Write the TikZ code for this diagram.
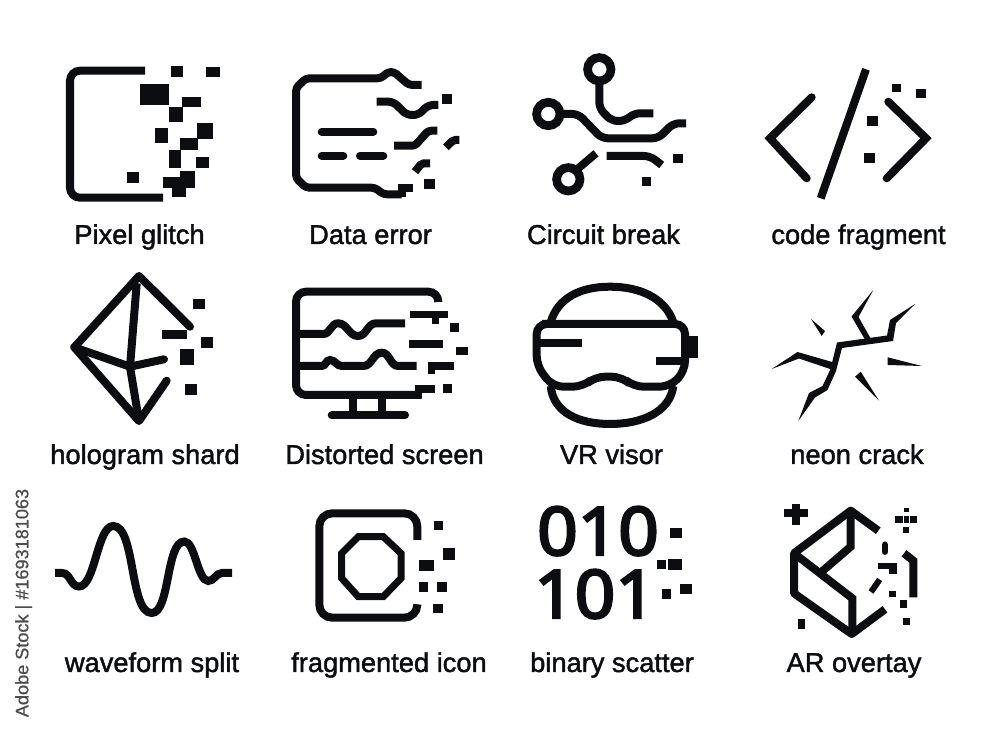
\documentclass[tikz,border=0pt]{standalone}
\usepackage{fontspec}
\setmainfont{Liberation Sans}
\newfontfamily\bitfont[FakeBold=3.5]{Noto Sans}
\usepackage{tikz}
\definecolor{inkblack}{HTML}{0B0D10}
\def\block(#1)(#2){\fill[inkblack] (#1) rectangle (#2);}
\tikzset{
	bar/.style={draw=inkblack, line width=0.8mm, line join=miter},
	roundbar/.style={bar, line cap=round, line join=round},
	caption/.style={anchor=base, text=inkblack, font=\addfontfeature{FakeBold=1.6}\fontsize{7.75}{9}\selectfont, inner sep=0pt},
	digits/.style={anchor=base, text=inkblack, font=\bitfont\fontsize{19}{22}\selectfont, inner sep=0pt, xscale=1.06}
}

\begin{document}
\begin{tikzpicture}[x=0.01cm, y=-0.01cm]
		%%%%% START %%%%%
		\useasboundingbox (0, 0) rectangle (1000, 731);
		
		% pixel glitch
		\draw[bar, rounded corners=1mm] (145, 70.7) -- (70, 70.7) -- (70, 197.7) -- (163, 197.7);
		\block(170.7, 66)(183.3, 77.3)
		\block(205.7, 66.7)(220, 77.3)
		\block(140, 84.3)(169.3, 105)
		\block(181.7, 97.3)(201, 107)
		\block(169.3, 107)(182.7, 122.3)
		\block(196.7, 122.7)(213.3, 138.7)
		\block(155.3, 128.3)(168, 143.3)
		\block(180.3, 137.7)(197.7, 149.7)
		\block(169.3, 150.3)(181.3, 167.7)
		\block(196.3, 157)(209, 167.7)
		\block(127.3, 172.3)(138.7, 182.7)
		\block(162.7, 177.3)(195, 187.7)
		\block(180.3, 170.7)(195, 187.7)
		\block(172, 187.7)(185.7, 197.3)
		\node[caption] (pixelglitch) at (139.5, 244) {Pixel glitch};
		
		% data error
		\draw[bar, line join=round, rounded corners=0.35mm] (421.7, 85) -- (409, 85) -- (394, 72) -- (388, 72) -- (381, 78.3) -- (306, 78.3) -- (296, 88) -- (296, 178) -- (306, 187.7) -- (375, 187.7) -- (383.3, 194.3) -- (401.7, 194.3);
		\draw[bar] (401.7, 197.5) -- (401.7, 187.7) -- (413.3, 187.7);
		\draw[bar, line join=round, rounded corners=0.5mm] (376.7, 101.7) -- (393.3, 101.7) -- (406.7, 115) -- (418.3, 115) -- (428.3, 105) -- (438.3, 105);
		\draw[bar, line join=round, rounded corners=0.3mm] (394, 145.7) -- (415, 145.7) -- (428.3, 130.7) -- (437.3, 130.7);
		\draw[bar, line join=round, rounded corners=0.2mm] (446, 147.3) -- (453.3, 140) -- (459.3, 140);
		\draw[bar, line join=round, rounded corners=0.2mm] (415, 171.7) -- (421.7, 163.3) -- (430, 163.3);
		\draw[roundbar] (321.7, 131.7) -- (373.3, 131.7);
		\draw[roundbar] (321.7, 155.7) -- (343.3, 155.7);
		\draw[roundbar] (360, 155.7) -- (383.3, 155.7);
		\block(441.7, 93.7)(452, 103.7)
		\block(424, 179.3)(435, 189)
		\node[caption] (dataerror) at (370.5, 244) {Data error};
		
		% circuit break
		\draw[bar, line width=0.87mm] (599.3, 69.3) circle (11.7);
		\draw[bar, line width=0.87mm] (548.3, 114) circle (11.7);
		\draw[bar, line width=0.87mm] (568.3, 179.3) circle (11.7);
		\draw[bar, rounded corners=0.6mm] (599.3, 83.3) -- (599.3, 108.3) -- (611.7, 121) -- (625, 121) -- (634, 113.3) -- (653.3, 113.3);
		\draw[bar, rounded corners=0.6mm] (561.7, 114) -- (578.3, 114) -- (601.7, 138.3) -- (658.3, 138.3) -- (673.3, 123.3) -- (686, 123.3);
		\draw[bar] (578.3, 168.3) -- (596, 153.3);
		\draw[bar, rounded corners=0.6mm] (606.7, 156) -- (650, 156) -- (661.7, 165);
		\block(673.3, 153.7)(683, 163)
		\block(641.7, 177)(651, 185.7)
		\node[caption] (circuitbreak) at (603.5, 244) {Circuit break};
		
		% code fragment
		\draw[bar, line cap=round] (811.7, 97.3) -- (770, 138.3) -- (806.7, 178.3);
		\draw[bar] (866, 69.3) -- (820.7, 198.3);
		\draw[bar, line cap=round] (888.3, 101.7) -- (926, 138.3) -- (886.7, 178.3);
		\block(891.7, 84.3)(901, 92.3)
		\block(915.7, 88.7)(926, 97.7)
		\block(867, 116)(878.3, 126.3)
		\block(863.7, 152.7)(874.7, 163)
		\node[caption] (codefragment) at (858.5, 244) {code fragment};
		
		% hologram shard
		\draw[roundbar] (190, 326.7) -- (139, 276) -- (74.3, 347.3) -- (139, 421) -- (166.7, 380.7);
		\draw[bar] (136.7, 283.3) -- (130, 367) -- (139, 421);
		\draw[bar, line cap=round] (74.3, 347.3) -- (130, 366.7) -- (164, 359.3);
		\block(162, 329.7)(186.7, 339.3)
		\block(193, 298.7)(205, 309.3)
		\block(200.7, 337)(212.7, 348.3)
		\block(180.3, 349.3)(194.3, 365.3)
		\block(185, 383.7)(197.3, 395)
		\node[caption] (hologramshard) at (145, 464) {hologram shard};
		
		% distorted screen
		\draw[bar, rounded corners=1mm] (438.3, 302) -- (438.3, 291.7) -- (296, 291.7) -- (296, 395) -- (421.7, 395);
		\draw[bar] (353.3, 395) -- (353.3, 415);
		\draw[bar] (381.7, 395) -- (381.7, 415);
		\draw[roundbar] (331.7, 415.3) -- (405, 415.3);
		\draw[bar] (296, 334) -- (323.3, 334) to[out=0, in=180] (338, 323.3) to[out=0, in=180] (358, 336) to[out=0, in=180] (376, 323.3) -- (405, 323.3);
		\draw[bar] (296, 366) -- (321.7, 366) to[out=0, in=180] (330, 360) to[out=0, in=180] (341.7, 366) -- (363.3, 366) to[out=0, in=180] (381.7, 352.7) to[out=0, in=180] (398.3, 366) -- (416.7, 366);
		\block(410, 310.7)(448.3, 318.3)
		\block(431.7, 318)(439, 324)
		\block(450, 323.3)(459.3, 332)
		\block(409, 340.3)(443.3, 348.3)
		\block(456, 346.7)(468, 355.3)
		\block(428.3, 362)(454, 370)
		\block(428.3, 370)(435.3, 374)
		\block(415, 385)(435.3, 392.7)
		\block(415, 392.7)(421.7, 398)
		\block(443.3, 384)(451.7, 392.7)
		\node[caption] (distortedscreen) at (384.5, 464) {Distorted screen};
		
		% vr visor
		\draw[bar] (550.7, 322) .. controls (558, 298) and (580, 286.7) .. (610, 286.7) .. controls (640, 286.7) and (665, 298) .. (673.3, 322);
		\draw[bar] (550.7, 386) .. controls (553, 412) and (578, 424) .. (610, 424) .. controls (642, 424) and (670, 412) .. (673.3, 386);
		\draw[bar, rounded corners=1mm] (552, 324) -- (536.7, 324) -- (536.7, 366) -- (553, 386.7) -- (583, 386.7) -- (595, 376.7) -- (621.7, 376.7) -- (633.3, 386.7) -- (670, 386.7) -- (685, 371) -- (685, 324) -- cycle;
		\draw[bar] (536.7, 343.3) -- (581.7, 343.3);
		\draw[bar] (655.7, 360.7) -- (685, 360.7);
		\block(685, 336)(698.3, 358.3)
		\node[caption] (vrvisor) at (611.5, 464) {VR visor};
		
		% neon crack
		\fill[inkblack] (915, 304) -- (896, 323) -- (893, 341) -- (842, 348) -- (836, 371) -- (827.5, 390) -- (815, 397.5) -- (798.3, 421) -- (809, 393) -- (822.5, 386) -- (830.5, 369) -- (837, 342.5) -- (887, 335.5) -- (890, 320) -- cycle;
		\fill[inkblack] (873.3, 290) -- (858.5, 317) -- (871, 339) -- (865.5, 340.5) -- (851.5, 316.5) -- cycle;
		\fill[inkblack] (771.7, 369) -- (797.5, 352) -- (834, 362.5) -- (833, 370) -- (799, 358.5) -- cycle;
		\fill[inkblack] (811, 319) -- (825, 331) -- (821.7, 336) -- cycle;
		\fill[inkblack] (921.7, 366) -- (887.7, 357.3) -- (887.7, 365) -- cycle;
		\fill[inkblack] (879, 400.7) -- (860.7, 371.7) -- (855, 376.7) -- cycle;
		\node[caption] (neoncrack) at (857, 464) {neon crack};
		
		% waveform split
		\draw[bar, looseness=0.6] (55, 573) -- (62, 573) to[out=0, in=180, looseness=1] (79, 586.5) to[out=0, in=180] (113.3, 526) to[out=0, in=180] (151.7, 613) to[out=0, in=180] (184.3, 541.5) to[out=0, in=180] (208.3, 581) to[out=0, in=180, looseness=1] (222, 573) -- (232, 573);
		\node[caption] (waveformsplit) at (152, 672) {waveform split};
		
		% fragmented icon
		\draw[bar, rounded corners=1.3mm] (417.3, 540) -- (417.3, 513.3) -- (319.3, 513.3) -- (319.3, 617.7) -- (417.3, 617.7) -- (417.3, 606);
		\draw[bar, line width=0.7mm] (358.3, 536.7) -- (383.3, 536.7) -- (401, 553.3) -- (401, 578.3) -- (383.3, 596.7) -- (358.3, 596.7) -- (341.7, 578.3) -- (341.7, 553.3) -- cycle;
		\block(434, 521)(443.3, 530.3)
		\block(443, 548.3)(455, 559.7)
		\block(419.3, 560)(434, 571)
		\block(419.3, 582.3)(428.3, 591.7)
		\block(437.3, 582.3)(446.7, 592.3)
		\block(432.7, 604)(442.7, 613.3)
		\node[caption] (fragmentedicon) at (389, 672) {fragmented icon};
		
		% binary scatter
		\node[digits] (upperbits) at (598, 555) {010};
		\node[digits] (lowerbits) at (595, 618) {101};
		\block(670.3, 527.7)(682, 538.3)
		\block(656.7, 560)(666, 569.3)
		\block(668.3, 559.3)(682, 570)
		\block(661.7, 589)(670.7, 598.7)
		\block(680.3, 584)(691.7, 594)
		\node[caption] (binaryscatter) at (612, 672) {binary scatter};
		
		% ar overlay
		\draw[bar] (784, 513.3) -- (808.3, 513.3);
		\draw[bar] (795.7, 504.3) -- (795.7, 525);
		\draw[bar, line join=round] (878.3, 530.7) -- (850.7, 510.7) -- (794, 553.3) -- (794, 593.3) -- (851.7, 634) -- (885, 609.3);
		\draw[bar] (850.7, 510.7) -- (850.7, 546.7) -- (821.7, 571.7);
		\draw[bar] (794, 553.3) -- (852.3, 598.3) -- (852.3, 634);
		\draw[bar, line cap=round, line width=0.65mm] (885, 544.7) -- (885, 551.7);
		\draw[bar] (904, 553.3) -- (913.3, 560.7) -- (913.3, 597.3);
		\block(878.3, 563.3)(896.7, 569)
		\block(889.3, 569)(896.7, 574.3)
		\draw[bar, line width=0.6mm] (871, 592) -- (879.7, 579.5);
		\block(889.3, 590.7)(895.7, 597.3)
		\block(900, 600)(907.3, 607.7)
		\block(902.7, 618)(910, 625)
		\block(797.7, 619)(805, 629.3)
		\block(904, 507.7)(909, 512.3)
		\block(895, 515.7)(902.7, 523.3)
		\block(904, 515.7)(909, 523.3)
		\block(910, 515.7)(917.3, 523.3)
		\block(903.3, 526.7)(909.3, 533.3)
		\node[caption] (aroverlay) at (854, 672) {AR overtay};
		
		% side mark
		\node[text=black!70, rotate=90, anchor=base, font=\addfontfeature{FakeBold=0.8}\fontsize{5.15}{6}\selectfont, inner sep=0pt] (sidemark) at (28.3, 603) {Adobe Stock | \#1693181063};
		%%%%% END %%%%%
	\end{tikzpicture}
\end{document}
